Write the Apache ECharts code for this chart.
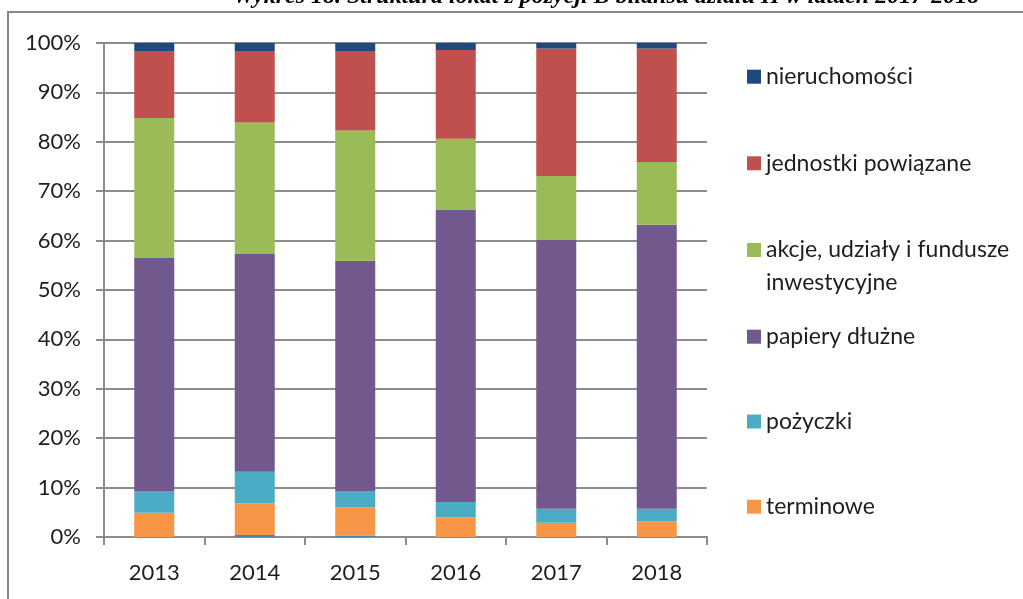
<!DOCTYPE html>
<html>
<head>
<meta charset="utf-8">
<script src="https://cdn.jsdelivr.net/npm/echarts@6/dist/echarts.min.js"></script>
<style>
html,body{margin:0;padding:0;background:#fff;}
#chart{width:1023px;height:599px;}
</style>
</head>
<body>
<div id="chart"></div>
<script>
const titleText = 'Wykres 18. Struktura lokat z pozycji B bilansu działu II w latach 2017-2018';
const categories = ['2013', '2014', '2015', '2016', '2017', '2018'];
const yTicks = [0, 10, 20, 30, 40, 50, 60, 70, 80, 90, 100];
const inne = [0, 0.4, 0.3, 0, 0, 0];
const terminowe = [4.9, 6.4, 5.7, 4.0, 2.9, 3.2];
const pozyczki = [4.4, 6.4, 3.3, 3.1, 2.8, 2.5];
const papieryDluzne = [47.2, 44.1, 46.6, 59.1, 54.4, 57.5];
const akcje = [28.3, 26.6, 26.4, 14.4, 13.0, 12.7];
const jednostki = [13.6, 14.5, 16.1, 18.0, 25.8, 23.0];
const nieruchomosci = [1.6, 1.6, 1.6, 1.4, 1.1, 1.1];

const names = {
  inne: 'inne',
  terminowe: 'terminowe',
  pozyczki: 'pożyczki',
  papiery: 'papiery dłużne',
  akcje: 'akcje, udziały i fundusze inwestycyjne',
  jednostki: 'jednostki powiązane',
  nieruchomosci: 'nieruchomości'
};
const colors = {
  inne: '#4F81BD',
  terminowe: '#F79646',
  pozyczki: '#4BACC6',
  papiery: '#71598E',
  akcje: '#9BBB59',
  jednostki: '#C0504D',
  nieruchomosci: '#1F497D'
};

const FONT = 'Lato';
const TXT = '#1e1e1e';
const GRID = '#8c8c8c';

function bar(key, data) {
  return {
    name: names[key], type: 'bar', stack: 'all', data: data,
    barWidth: 40,
    itemStyle: { color: colors[key] },
    emphasis: { disabled: true }
  };
}

function legendFor(key, top, multi) {
  const lg = {
    left: 747, top: top, orient: 'vertical', padding: 0,
    itemWidth: 14, itemHeight: 14,
    selectedMode: false,
    data: [{ name: names[key], icon: 'rect' }],
    textStyle: { fontFamily: FONT, fontSize: 23, color: TXT, lineHeight: 24 }
  };
  if (multi) {
    lg.formatter = function () { return ' \nakcje, udziały i fundusze\ninwestycyjne'; };
    lg.textStyle.lineHeight = 33;
  }
  return lg;
}

const chart = echarts.init(document.getElementById('chart'));
chart.setOption({
  animation: false,
  backgroundColor: '#fff',
  title: {
    text: titleText, left: 228, top: -20,
    textStyle: { fontFamily: 'Liberation Serif', fontStyle: 'italic', fontWeight: 'bold', fontSize: 24, color: '#000' }
  },
  graphic: [{
    type: 'rect', shape: { x: 8, y: 12, width: 1100, height: 700 },
    style: { fill: 'none', stroke: '#888', lineWidth: 2 }, silent: true
  }],
  legend: [
    legendFor('nieruchomosci', 64.7),
    legendFor('jednostki', 151.3),
    legendFor('akcje', 200.5, true),
    legendFor('papiery', 324.7),
    legendFor('pozyczki', 409.5),
    legendFor('terminowe', 494.7)
  ],
  grid: { left: 104, right: 316, top: 43, bottom: 62 },
  xAxis: {
    type: 'category', data: categories,
    axisLine: { lineStyle: { color: GRID, width: 2 } },
    axisTick: { show: true, length: 8, interval: 0, lineStyle: { color: GRID, width: 2 } },
    axisLabel: { fontFamily: FONT, fontSize: 22, color: TXT, margin: 25 }
  },
  yAxis: {
    type: 'value', min: yTicks[0], max: yTicks[yTicks.length - 1], interval: 10,
    axisLine: { show: true, lineStyle: { color: GRID, width: 2 } },
    axisTick: { show: true, length: 8, lineStyle: { color: GRID, width: 2 } },
    axisLabel: { fontFamily: FONT, fontSize: 22, color: TXT, margin: 23, formatter: '{value}%' },
    splitLine: { show: true, lineStyle: { color: GRID, width: 2 } }
  },
  series: [
    bar('inne', inne),
    bar('terminowe', terminowe),
    bar('pozyczki', pozyczki),
    bar('papiery', papieryDluzne),
    bar('akcje', akcje),
    bar('jednostki', jednostki),
    bar('nieruchomosci', nieruchomosci)
  ]
});
</script>
</body>
</html>
